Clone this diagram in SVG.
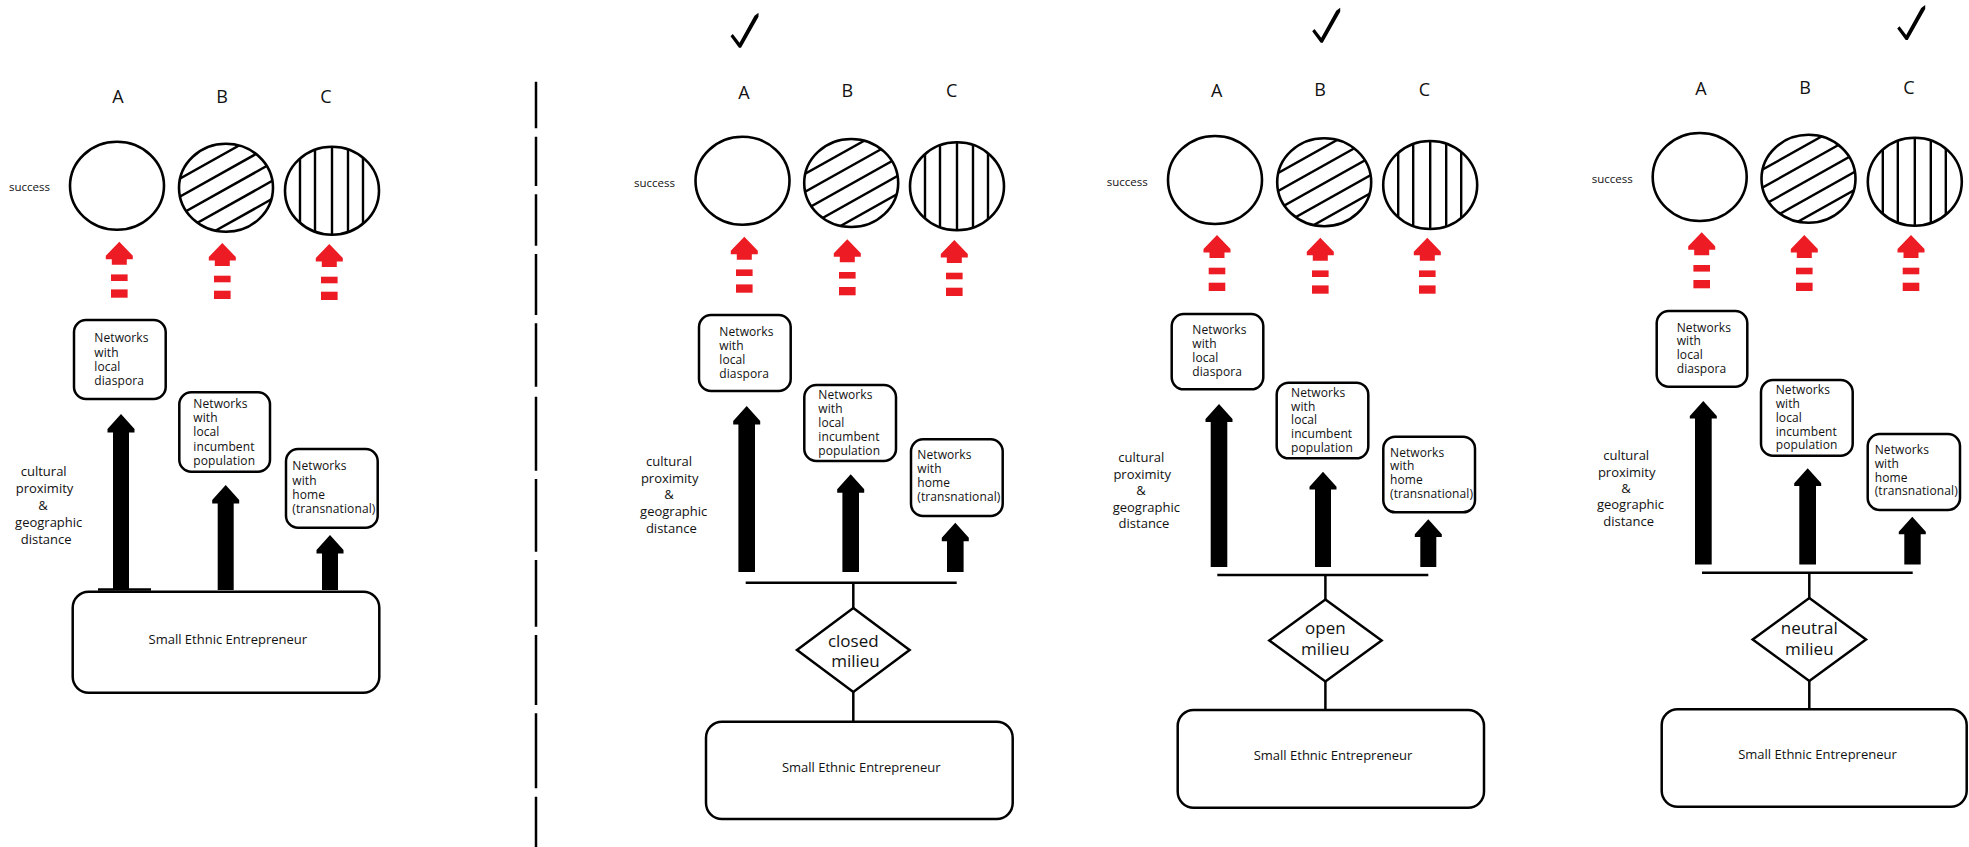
<svg xmlns="http://www.w3.org/2000/svg" xmlns:xlink="http://www.w3.org/1999/xlink" width="1969" height="847" viewBox="0 0 1969 847">
<style>
text{font-family:"Open Sans","Noto Sans","DejaVu Sans",sans-serif;fill:#111}
.net{font-size:12px;letter-spacing:0.1px}
.cult{font-size:13px;text-anchor:middle}
.succ{font-size:11.5px}
.abc{font-size:18px;text-anchor:middle}
.see{font-size:13px;text-anchor:middle}
.mil{font-size:17px;text-anchor:middle}
.box{fill:#fff;stroke:#000;stroke-width:2.5}
.ln{stroke:#000;stroke-width:2.5;fill:none}
.blk{fill:#000}
.dia{fill:#fff;stroke:#000;stroke-width:2.5}
</style>
<defs>
<clipPath id="ce"><ellipse cx="0" cy="0" rx="47" ry="44"/></clipPath>
<g id="circA"><ellipse cx="0" cy="0" rx="47" ry="44" fill="#fff" stroke="#000" stroke-width="2.6"/></g>
<g id="circB"><ellipse cx="0" cy="0" rx="47" ry="44" fill="#fff"/>
<g clip-path="url(#ce)" stroke="#000" stroke-width="2.4">
<line x1="-50" y1="-7" x2="50" y2="-63"/><line x1="-50" y1="11" x2="50" y2="-45"/><line x1="-50" y1="29" x2="50" y2="-27"/><line x1="-50" y1="47" x2="50" y2="-9"/><line x1="-50" y1="65" x2="50" y2="9"/>
</g><ellipse cx="0" cy="0" rx="47" ry="44" fill="none" stroke="#000" stroke-width="2.6"/></g>
<g id="circC"><ellipse cx="0" cy="0" rx="47" ry="44" fill="#fff"/>
<g clip-path="url(#ce)" stroke="#000" stroke-width="2.4">
<line x1="-32" y1="-46" x2="-32" y2="46"/><line x1="-17" y1="-46" x2="-17" y2="46"/><line x1="0" y1="-46" x2="0" y2="46"/><line x1="16" y1="-46" x2="16" y2="46"/><line x1="31" y1="-46" x2="31" y2="46"/>
</g><ellipse cx="0" cy="0" rx="47" ry="44" fill="none" stroke="#000" stroke-width="2.6"/></g>
<g id="red" fill="#ED1C24"><polygon points="0,0 13.5,14 13.5,17.5 7.5,17.5 7.5,23 -7.5,23 -7.5,17.5 -13.5,17.5 -13.5,14"/><rect x="-8.3" y="32.7" width="16.6" height="6.6"/><rect x="-8.3" y="47.7" width="16.6" height="8.3"/></g>
<path id="chk" d="M -9.5,-10.5 L -7.2,-12.8 L -0.5,-4 L 14.5,-31 L 18.5,-34 L 18.5,-30 L 1,1 L -1,1 Z" fill="#000"/>
</defs>

<g id="divider"><path class="ln" stroke-width="2.7" d="M536,81.7V128.3M536,136.7V186M536,194.3V245.7M536,254V315M536,323.3V386.7M536,396.7V470.7M536,479V551.7M536,560V626.7M536,635V705M536,713.3V788.3M536,796.7V847"/></g>

<g id="checks"><use xlink:href="#chk" transform="translate(740,46.7)"/><use xlink:href="#chk" transform="translate(1321.7,41.7)"/><use xlink:href="#chk" transform="translate(1906.7,39)"/></g>

<g id="labels">
<text class="abc" x="118" y="103.3">A</text><text class="abc" x="222" y="102.5">B</text><text class="abc" x="326" y="102.5">C</text>
<text class="abc" x="744" y="98.7">A</text><text class="abc" x="847.3" y="96.7">B</text><text class="abc" x="951.7" y="96.7">C</text>
<text class="abc" x="1216.7" y="97.3">A</text><text class="abc" x="1320" y="95.7">B</text><text class="abc" x="1424.3" y="95.7">C</text>
<text class="abc" x="1701" y="95">A</text><text class="abc" x="1805" y="93.7">B</text><text class="abc" x="1909" y="93.7">C</text>
<text class="succ" x="9" y="191">success</text>
<text class="succ" x="634" y="186.7">success</text>
<text class="succ" x="1106.7" y="186">success</text>
<text class="succ" x="1591.7" y="183.3">success</text>
</g>

<g id="success-circles">
<use xlink:href="#circA" transform="translate(117,185.8)"/><use xlink:href="#circB" transform="translate(226,187.8)"/><use xlink:href="#circC" transform="translate(332,190.7)"/>
<use xlink:href="#circA" transform="translate(742.5,180.8)"/><use xlink:href="#circB" transform="translate(851.2,183)"/><use xlink:href="#circC" transform="translate(957,186.3)"/>
<use xlink:href="#circA" transform="translate(1215,180)"/><use xlink:href="#circB" transform="translate(1324.2,182.2)"/><use xlink:href="#circC" transform="translate(1430.2,185)"/>
<use xlink:href="#circA" transform="translate(1699.7,177)"/><use xlink:href="#circB" transform="translate(1808.5,178.8)"/><use xlink:href="#circC" transform="translate(1914.8,181.7)"/>
</g>

<g id="connectors">
<use xlink:href="#red" transform="translate(119.3,241.7)"/><use xlink:href="#red" transform="translate(222.3,243)"/><use xlink:href="#red" transform="translate(329.3,244)"/>
<use xlink:href="#red" transform="translate(744.3,236.7)"/><use xlink:href="#red" transform="translate(847.3,239.3)"/><use xlink:href="#red" transform="translate(954.3,240)"/>
<use xlink:href="#red" transform="translate(1217,235)"/><use xlink:href="#red" transform="translate(1320.3,237.7)"/><use xlink:href="#red" transform="translate(1427.3,237.7)"/>
<use xlink:href="#red" transform="translate(1701.7,232.3)"/><use xlink:href="#red" transform="translate(1804.3,235)"/><use xlink:href="#red" transform="translate(1911,235)"/>

<polygon class="blk" points="121,414 134.5,429 134.5,432.5 129,432.5 129,590 113,590 113,432.5 107.5,432.5 107.5,429"/>
<polygon class="blk" points="225.7,485 239.2,500 239.2,503.5 233.7,503.5 233.7,590 217.7,590 217.7,503.5 212.2,503.5 212.2,500"/>
<polygon class="blk" points="330,535 343.5,550 343.5,553.5 338,553.5 338,590 322,590 322,553.5 316.5,553.5 316.5,550"/>
<line class="ln" x1="98" y1="589.5" x2="151" y2="589.5" stroke-width="2"/>

<polygon class="blk" points="746.7,406 760.2,421 760.2,424.5 755,424.5 755,572 738.4,572 738.4,424.5 733.2,424.5 733.2,421"/>
<polygon class="blk" points="850.7,474.3 864.2,489.3 864.2,492.8 859,492.8 859,572 842.4,572 842.4,492.8 837.2,492.8 837.2,489.3"/>
<polygon class="blk" points="955.3,522.7 968.8,537.7 968.8,541.2 963.6,541.2 963.6,572 947,572 947,541.2 941.8,541.2 941.8,537.7"/>
<line class="ln" x1="745.7" y1="582.7" x2="956.7" y2="582.7"/>
<line class="ln" x1="853.3" y1="582.7" x2="853.3" y2="608"/>
<line class="ln" x1="853.3" y1="692" x2="853.3" y2="722"/>

<polygon class="blk" points="1219,404 1232.5,419 1232.5,422 1227.3,422 1227.3,567 1210.7,567 1210.7,422 1205.5,422 1205.5,419"/>
<polygon class="blk" points="1323,471.7 1336.5,486.7 1336.5,489.5 1331,489.5 1331,567 1315,567 1315,489.5 1309.5,489.5 1309.5,486.7"/>
<polygon class="blk" points="1428.3,519.3 1441.8,534.3 1441.8,537 1436.3,537 1436.3,567 1420.3,567 1420.3,537 1414.8,537 1414.8,534.3"/>
<line class="ln" x1="1217.3" y1="575" x2="1428.3" y2="575"/>
<line class="ln" x1="1325.4" y1="575" x2="1325.4" y2="599.5"/>
<line class="ln" x1="1325.4" y1="681.5" x2="1325.4" y2="710"/>

<polygon class="blk" points="1703.3,401 1716.8,416 1716.8,418.5 1711.7,418.5 1711.7,564.5 1695,564.5 1695,418.5 1689.8,418.5 1689.8,416"/>
<polygon class="blk" points="1807.7,468.3 1821.2,483.3 1821.2,486 1816,486 1816,564.5 1799.3,564.5 1799.3,486 1794.2,486 1794.2,483.3"/>
<polygon class="blk" points="1912.3,516.7 1925.8,531.7 1925.8,534.3 1920.7,534.3 1920.7,564.5 1904.3,564.5 1904.3,534.3 1898.8,534.3 1898.8,531.7"/>
<line class="ln" x1="1702" y1="572.7" x2="1912.7" y2="572.7"/>
<line class="ln" x1="1809.3" y1="572.7" x2="1809.3" y2="598"/>
<line class="ln" x1="1809.3" y1="681" x2="1809.3" y2="709.3"/>
</g>

<g id="dimension-labels">
<text class="cult"><tspan x="43.7" y="476">cultural</tspan><tspan x="44.5" y="493">proximity</tspan><tspan x="43" y="510">&amp;</tspan><tspan x="48.7" y="527">geographic</tspan><tspan x="46.2" y="544">distance</tspan></text>
<text class="cult"><tspan x="669" y="465.7">cultural</tspan><tspan x="669.7" y="482.7">proximity</tspan><tspan x="669" y="499">&amp;</tspan><tspan x="673.7" y="516">geographic</tspan><tspan x="671.3" y="532.7">distance</tspan></text>
<text class="cult"><tspan x="1141.3" y="462.3">cultural</tspan><tspan x="1142.2" y="479">proximity</tspan><tspan x="1141" y="495">&amp;</tspan><tspan x="1146.3" y="512">geographic</tspan><tspan x="1144" y="528.3">distance</tspan></text>
<text class="cult"><tspan x="1626.2" y="460">cultural</tspan><tspan x="1626.7" y="476.7">proximity</tspan><tspan x="1626" y="492.7">&amp;</tspan><tspan x="1630.5" y="509.3">geographic</tspan><tspan x="1628.7" y="526">distance</tspan></text>
</g>

<g id="p1-diaspora"><rect class="box" x="74" y="320" width="91.7" height="79" rx="12"/><text class="net"><tspan x="94.3" y="342.3">Networks</tspan><tspan x="94.3" y="356.7">with</tspan><tspan x="94.3" y="371">local</tspan><tspan x="94.3" y="385.3">diaspora</tspan></text></g>
<g id="p1-incumbent"><rect class="box" x="179.3" y="392.3" width="90.7" height="79.4" rx="12"/><text class="net"><tspan x="193.3" y="407.7">Networks</tspan><tspan x="193.3" y="422">with</tspan><tspan x="193.3" y="436.3">local</tspan><tspan x="193.3" y="450.7">incumbent</tspan><tspan x="193.3" y="465">population</tspan></text></g>
<g id="p1-home"><rect class="box" x="286" y="449" width="91.7" height="78.7" rx="12"/><text class="net"><tspan x="292.3" y="470">Networks</tspan><tspan x="292.3" y="484.7">with</tspan><tspan x="292.3" y="499">home</tspan><tspan x="292.3" y="513.3">(transnational)</tspan></text></g>
<g id="p1-entrepreneur"><rect class="box" x="72.7" y="591.7" width="306.6" height="101" rx="16"/><text class="see" x="227.8" y="644">Small Ethnic Entrepreneur</text></g>

<g id="p2-diaspora"><rect class="box" x="699" y="315" width="91.7" height="76" rx="12"/><text class="net"><tspan x="719.3" y="336">Networks</tspan><tspan x="719.3" y="350">with</tspan><tspan x="719.3" y="364">local</tspan><tspan x="719.3" y="377.7">diaspora</tspan></text></g>
<g id="p2-incumbent"><rect class="box" x="804.3" y="385" width="91.7" height="76" rx="12"/><text class="net"><tspan x="818.3" y="399.3">Networks</tspan><tspan x="818.3" y="413.3">with</tspan><tspan x="818.3" y="427.3">local</tspan><tspan x="818.3" y="441">incumbent</tspan><tspan x="818.3" y="455">population</tspan></text></g>
<g id="p2-home"><rect class="box" x="911" y="439.3" width="91.7" height="76.7" rx="12"/><text class="net"><tspan x="917.3" y="459.3">Networks</tspan><tspan x="917.3" y="473.3">with</tspan><tspan x="917.3" y="487.3">home</tspan><tspan x="917.3" y="501.3">(transnational)</tspan></text></g>
<g id="p2-milieu"><polygon class="dia" points="853.3,608 909.6,650 853.3,692 797,650"/><text class="mil"><tspan x="853.3" y="646.7">closed</tspan><tspan x="855.5" y="667.3">milieu</tspan></text></g>
<g id="p2-entrepreneur"><rect class="box" x="706" y="721.7" width="306.7" height="97.3" rx="16"/><text class="see" x="861.2" y="772.3">Small Ethnic Entrepreneur</text></g>

<g id="p3-diaspora"><rect class="box" x="1171.7" y="314" width="91.6" height="75.3" rx="12"/><text class="net"><tspan x="1192.3" y="334.3">Networks</tspan><tspan x="1192.3" y="348">with</tspan><tspan x="1192.3" y="362">local</tspan><tspan x="1192.3" y="375.7">diaspora</tspan></text></g>
<g id="p3-incumbent"><rect class="box" x="1276.7" y="382.7" width="91.6" height="75.6" rx="12"/><text class="net"><tspan x="1291" y="396.7">Networks</tspan><tspan x="1291" y="410.7">with</tspan><tspan x="1291" y="424.3">local</tspan><tspan x="1291" y="438.3">incumbent</tspan><tspan x="1291" y="452.3">population</tspan></text></g>
<g id="p3-home"><rect class="box" x="1383.3" y="436.7" width="91.7" height="75.6" rx="12"/><text class="net"><tspan x="1390" y="456.7">Networks</tspan><tspan x="1390" y="470.3">with</tspan><tspan x="1390" y="484">home</tspan><tspan x="1390" y="498">(transnational)</tspan></text></g>
<g id="p3-milieu"><polygon class="dia" points="1325.4,599.5 1381.6,640.5 1325.4,681.5 1269.3,640.5"/><text class="mil"><tspan x="1325.4" y="634">open</tspan><tspan x="1325.4" y="655">milieu</tspan></text></g>
<g id="p3-entrepreneur"><rect class="box" x="1177.7" y="710" width="306.3" height="97.7" rx="16"/><text class="see" x="1333" y="760">Small Ethnic Entrepreneur</text></g>

<g id="p4-diaspora"><rect class="box" x="1656.7" y="311" width="90.6" height="75.7" rx="12"/><text class="net"><tspan x="1676.7" y="331.7">Networks</tspan><tspan x="1676.7" y="345.3">with</tspan><tspan x="1676.7" y="359.3">local</tspan><tspan x="1676.7" y="372.7">diaspora</tspan></text></g>
<g id="p4-incumbent"><rect class="box" x="1761" y="380" width="91.7" height="75.7" rx="12"/><text class="net"><tspan x="1775.7" y="394">Networks</tspan><tspan x="1775.7" y="408">with</tspan><tspan x="1775.7" y="421.7">local</tspan><tspan x="1775.7" y="435.7">incumbent</tspan><tspan x="1775.7" y="449.3">population</tspan></text></g>
<g id="p4-home"><rect class="box" x="1867.7" y="434" width="92.3" height="76" rx="12"/><text class="net"><tspan x="1874.7" y="454">Networks</tspan><tspan x="1874.7" y="467.7">with</tspan><tspan x="1874.7" y="481.7">home</tspan><tspan x="1874.7" y="495.3">(transnational)</tspan></text></g>
<g id="p4-milieu"><polygon class="dia" points="1809.3,598 1866,639.5 1809.3,681 1752.7,639.5"/><text class="mil"><tspan x="1809.3" y="634.3">neutral</tspan><tspan x="1809.3" y="655">milieu</tspan></text></g>
<g id="p4-entrepreneur"><rect class="box" x="1661.7" y="709.3" width="305" height="97.4" rx="16"/><text class="see" x="1817.5" y="759.3">Small Ethnic Entrepreneur</text></g>
</svg>
